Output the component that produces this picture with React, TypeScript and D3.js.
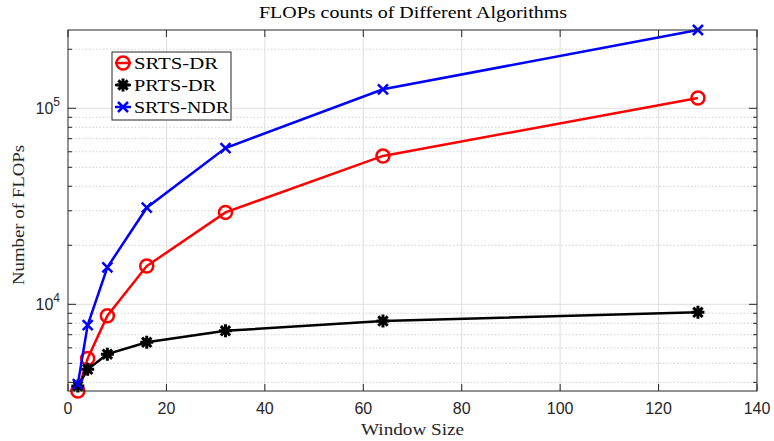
import React from 'react';
import * as d3 from 'd3';

const windowSizes = [2, 4, 8, 16, 32, 64, 128];
const srtsDr = [3613, 5300, 8750, 15670, 29440, 57150, 112900];
const prtsDr = [3830, 4660, 5570, 6400, 7330, 8220, 9100];
const srtsNdr = [3920, 7830, 15450, 31100, 62700, 125000, 250800];

const seriesNames = ['SRTS-DR', 'PRTS-DR', 'SRTS-NDR'];
const seriesColors = ['#ff0000', '#000000', '#0000ff'];
const seriesMarkers = ['circle', 'asterisk', 'x'];
const xTicks = [0, 20, 40, 60, 80, 100, 120, 140];
const yMajor = [1e4, 1e5];

const width = 774;
const height = 441;
const margin = { top: 30, right: 17, bottom: 50, left: 68 };

const serif = '"Liberation Serif", "DejaVu Serif", serif';
const sans = '"Liberation Sans", Arial, sans-serif';

const Marker = ({ type, x, y, color }: { type: string; x: number; y: number; color: string }) => {
  if (type === 'circle') {
    return <circle cx={x} cy={y} r={6.5} fill="none" stroke={color} strokeWidth={2.5} />;
  }
  if (type === 'x') {
    const s = 5;
    return (
      <path
        d={`M${x - s},${y - s}L${x + s},${y + s}M${x - s},${y + s}L${x + s},${y - s}`}
        stroke={color}
        strokeWidth={2.5}
        fill="none"
      />
    );
  }
  // asterisk: plus + x
  const s = 6.5;
  const d = s * 0.72;
  return (
    <path
      d={`M${x - s},${y}L${x + s},${y}M${x},${y - s}L${x},${y + s}M${x - d},${y - d}L${x + d},${y + d}M${x - d},${y + d}L${x + d},${y - d}`}
      stroke={color}
      strokeWidth={3}
      fill="none"
    />
  );
};

const App = () => {
  const allSeries = [srtsDr, prtsDr, srtsNdr];
  const allValues = allSeries.flat();

  const x = d3
    .scaleLinear()
    .domain([0, 140])
    .range([margin.left, width - margin.right]);

  const y = d3
    .scaleLog()
    .domain(d3.extent(allValues) as [number, number])
    .range([height - margin.bottom, margin.top]);

  const [yLo, yHi] = y.domain();
  const yMinor: number[] = [];
  for (let e = 3; e <= 5; e++) {
    for (let m = 2; m <= 9; m++) {
      const v = m * Math.pow(10, e);
      if (v >= yLo && v <= yHi) yMinor.push(v);
    }
  }

  const line = d3
    .line<number>()
    .x((_, i) => x(windowSizes[i]))
    .y((d) => y(d));

  const x0 = margin.left;
  const x1 = width - margin.right;
  const y0 = height - margin.bottom;
  const y1 = margin.top;
  const axisColor = '#262626';

  return (
    <svg
      width={width}
      height={height}
      style={{ position: 'absolute', left: 0, top: 0, background: '#fff' }}
    >
      {/* minor grid */}
      {yMinor.map((v) => (
        <line
          key={'mg' + v}
          x1={x0}
          x2={x1}
          y1={y(v)}
          y2={y(v)}
          stroke="#cfcfcf"
          strokeWidth={1}
          strokeDasharray="1.5,2"
        />
      ))}
      {/* major grid */}
      {yMajor.map((v) => (
        <line key={'yg' + v} x1={x0} x2={x1} y1={y(v)} y2={y(v)} stroke="#dedede" strokeWidth={1} />
      ))}
      {xTicks.slice(1, -1).map((t) => (
        <line key={'xg' + t} x1={x(t)} x2={x(t)} y1={y0} y2={y1} stroke="#dedede" strokeWidth={1} />
      ))}

      {/* series */}
      {allSeries.map((s, si) => (
        <g key={seriesNames[si]}>
          <path d={line(s) || ''} fill="none" stroke={seriesColors[si]} strokeWidth={2.5} />
          {s.map((v, i) => (
            <Marker key={i} type={seriesMarkers[si]} x={x(windowSizes[i])} y={y(v)} color={seriesColors[si]} />
          ))}
        </g>
      ))}

      {/* axes box */}
      <rect x={x0} y={y1} width={x1 - x0} height={y0 - y1} fill="none" stroke={axisColor} strokeWidth={1} />

      {/* x ticks */}
      {xTicks.map((t) => (
        <g key={'xt' + t}>
          <line x1={x(t)} x2={x(t)} y1={y0} y2={y0 - 7} stroke={axisColor} />
          <line x1={x(t)} x2={x(t)} y1={y1} y2={y1 + 7} stroke={axisColor} />
          <text
            x={x(t)}
            y={y0 + 23}
            textAnchor="middle"
            fontFamily={sans}
            fontSize={16}
            fill={axisColor}
          >
            {t}
          </text>
        </g>
      ))}

      {/* y ticks */}
      {yMajor.map((v) => (
        <g key={'yt' + v}>
          <line x1={x0} x2={x0 + 8} y1={y(v)} y2={y(v)} stroke={axisColor} />
          <line x1={x1} x2={x1 - 8} y1={y(v)} y2={y(v)} stroke={axisColor} />
          <text x={x0 - 8} y={y(v) + 6} textAnchor="end" fontFamily={sans} fontSize={16} fill={axisColor}>
            10
            <tspan dy={-8} fontSize={12}>
              {Math.round(Math.log10(v))}
            </tspan>
          </text>
        </g>
      ))}
      {yMinor.map((v) => (
        <g key={'ym' + v}>
          <line x1={x0} x2={x0 + 4} y1={y(v)} y2={y(v)} stroke={axisColor} />
          <line x1={x1} x2={x1 - 4} y1={y(v)} y2={y(v)} stroke={axisColor} />
        </g>
      ))}

      {/* title and labels */}
      <text
        x={413}
        y={18}
        textAnchor="middle"
        fontFamily={serif}
        fontSize={17}
        textLength={308}
        lengthAdjust="spacingAndGlyphs"
        fill="#000"
      >
        FLOPs counts of Different Algorithms
      </text>
      <text
        x={412.5}
        y={435}
        textAnchor="middle"
        fontFamily={serif}
        fontSize={17}
        textLength={103}
        lengthAdjust="spacingAndGlyphs"
        fill="#262626"
      >
        Window Size
      </text>
      <text
        transform={`translate(24,215) rotate(-90)`}
        textAnchor="middle"
        fontFamily={serif}
        fontSize={17}
        textLength={140}
        lengthAdjust="spacingAndGlyphs"
        fill="#262626"
      >
        Number of FLOPs
      </text>

      {/* legend */}
      <g>
        <rect x={112} y={52} width={119} height={68} fill="#fff" stroke={axisColor} strokeWidth={1} />
        {seriesNames.map((name, i) => {
          const ly = 63 + i * 22;
          return (
            <g key={'lg' + name}>
              <line x1={115} x2={131} y1={ly} y2={ly} stroke={seriesColors[i]} strokeWidth={2.5} />
              <Marker type={seriesMarkers[i]} x={123} y={ly} color={seriesColors[i]} />
              <text
                x={134}
                y={ly + 6}
                fontFamily={serif}
                fontSize={17}
                textLength={[84, 82, 95][i]}
                lengthAdjust="spacingAndGlyphs"
                fill="#000"
              >
                {name}
              </text>
            </g>
          );
        })}
      </g>
    </svg>
  );
};

export default App;
